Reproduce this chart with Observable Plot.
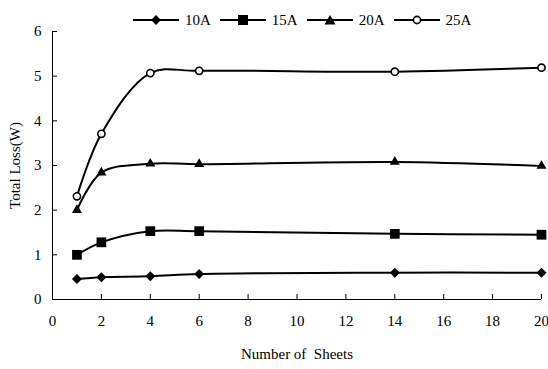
<!DOCTYPE html>
<html>
<head>
<meta charset="utf-8">
<script src="https://cdn.jsdelivr.net/npm/d3@7"></script>
<script src="https://cdn.jsdelivr.net/npm/@observablehq/plot@0.6"></script>
<style>
  html, body { margin: 0; padding: 0; background: #fff; }
  body { width: 548px; height: 369px; overflow: hidden; font-family: "Liberation Serif", "Times New Roman", serif; }
  #legend { height: 26px; display: flex; justify-content: flex-start; align-items: flex-start; padding-left: 133px; padding-top: 13px; box-sizing: border-box; font-size: 15px; line-height: 14px; color: #000; }
  .item { display: flex; align-items: center; margin-right: 9px; height: 14px; }
  .item svg { display: block; }
  .item span { margin-left: 6px; }
</style>
</head>
<body>
<div id="legend"></div>
<div id="chart"></div>
<script>
const sheets = [1, 2, 4, 6, 14, 20];
const seriesNames = ["10A", "15A", "20A", "25A"];
const loss10A = [0.46, 0.50, 0.52, 0.57, 0.60, 0.60];
const loss15A = [1.00, 1.28, 1.53, 1.53, 1.47, 1.45];
const loss20A = [2.00, 2.84, 3.04, 3.03, 3.08, 2.99];
const loss25A = [2.31, 3.71, 5.07, 5.12, 5.10, 5.19];
const xTicks = [0, 2, 4, 6, 8, 10, 12, 14, 16, 18, 20];
const yTicks = [0, 1, 2, 3, 4, 5, 6];

const valuesBySeries = [loss10A, loss15A, loss20A, loss25A];
const symbols = ["diamond2", "square2", "triangle2", "circle"];
const sizes = [4.5, 6.2, 4.8, 3.6];
const data = seriesNames.flatMap((s, i) => sheets.map((x, j) => ({series: s, x, y: valuesBySeries[i][j]})));

const legendMarks = {
  "10A": '<path d="M23,2 L28,7 L23,12 L18,7 Z" fill="#000"/>',
  "15A": '<rect x="18" y="2" width="10" height="10" fill="#000"/>',
  "20A": '<path d="M23,2 L28.5,11.5 L17.5,11.5 Z" fill="#000"/>',
  "25A": '<circle cx="23" cy="7" r="3.6" fill="#fff" stroke="#000" stroke-width="1.6"/>'
};
const legend = document.getElementById("legend");
for (const s of seriesNames) {
  const d = document.createElement("div");
  d.className = "item";
  d.innerHTML = '<svg width="46" height="14"><line x1="0" x2="46" y1="7" y2="7" stroke="#000" stroke-width="2"/>' + legendMarks[s] + '</svg><span>' + s + '</span>';
  legend.appendChild(d);
}

const dotMarks = seriesNames.map((s, i) => {
  const pts = data.filter(d => d.series === s);
  return s === "25A"
    ? Plot.dot(pts, {x: "x", y: "y", symbol: "circle", fill: "#fff", stroke: "#000", strokeWidth: 1.6, r: sizes[i]})
    : Plot.dot(pts, {x: "x", y: "y", symbol: symbols[i], fill: "#000", stroke: "none", r: sizes[i]});
});

const chart = Plot.plot({
  width: 548,
  height: 343,
  marginLeft: 52,
  marginRight: 7,
  marginTop: 5,
  marginBottom: 70,
  style: {fontFamily: "Liberation Serif, Times New Roman, serif", fontSize: "15px", color: "#000", background: "transparent", overflow: "visible"},
  x: {domain: [0, 20], ticks: xTicks, label: null},
  y: {domain: [0, 6], ticks: yTicks, label: null},
  marks: [
    Plot.ruleY([0], {stroke: "#000", strokeWidth: 1}),
    Plot.ruleX([0], {stroke: "#000", strokeWidth: 1}),
    Plot.ruleX(xTicks.filter(t => t > 0), {x: d => d, y1: 0, y2: 0, insetTop: -5, stroke: "#000"}),
    Plot.ruleY(yTicks.filter(t => t > 0), {y: d => d, x1: 0, x2: 0, insetRight: -5, stroke: "#000"}),
    Plot.axisX({ticks: xTicks, tickSize: 0, tickPadding: 16, fontSize: 15, tickFormat: "d"}),
    Plot.axisY({ticks: yTicks, tickSize: 0, tickPadding: 11, fontSize: 15, tickFormat: "d"}),
    Plot.line(data, {x: "x", y: "y", z: "series", curve: "catmull-rom", stroke: "#000", strokeWidth: 2}),
    ...dotMarks,
    Plot.text(["Number of  Sheets"], {frameAnchor: "bottom", textAnchor: "middle", dy: 59, fontSize: 15, text: d => d}),
    Plot.text(["Total Loss(W)"], {frameAnchor: "left", textAnchor: "middle", dx: -37, rotate: -90, fontSize: 15, text: d => d})
  ]
});
document.getElementById("chart").appendChild(chart);
</script>
</body>
</html>
